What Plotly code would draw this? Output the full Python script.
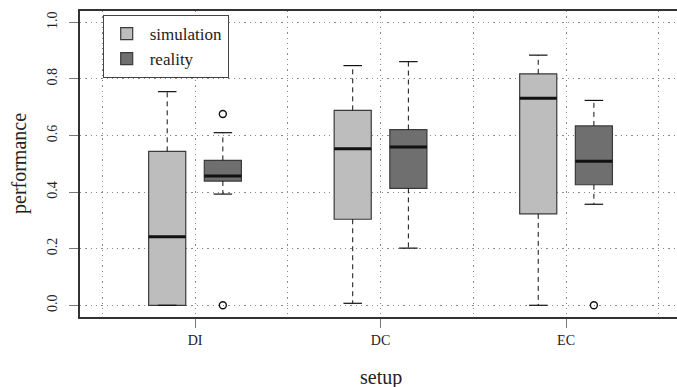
import plotly.graph_objects as go

categories = ["DI", "DC", "EC"]
series_names = ["simulation", "reality"]

sim_min = [0.0, 0.007, 0.0]
sim_q1 = [0.0, 0.304, 0.323]
sim_med = [0.242, 0.553, 0.732]
sim_q3 = [0.544, 0.689, 0.818]
sim_max = [0.755, 0.847, 0.884]
sim_outliers = [[], [], []]

real_min = [0.393, 0.202, 0.357]
real_q1 = [0.439, 0.413, 0.426]
real_med = [0.457, 0.559, 0.509]
real_q3 = [0.512, 0.621, 0.634]
real_max = [0.610, 0.861, 0.724]
real_outliers = [[0.676, 0.0], [], [0.0]]

y_ticks = [0.0, 0.2, 0.4, 0.6, 0.8, 1.0]
y_tick_labels = ["0.0", "0.2", "0.4", "0.6", "0.8", "1.0"]

FONT = "Liberation Serif, Times New Roman, serif"
fills = ["#bdbdbd", "#6f6f6f"]
offsets = [-0.15, 0.15]
BOXW = 0.2
CAPW = 0.1

series = [
    (sim_min, sim_q1, sim_med, sim_q3, sim_max, sim_outliers),
    (real_min, real_q1, real_med, real_q3, real_max, real_outliers),
]

W, H = 677, 387
ML, MR, MT, MB = 80, 0, 11, 70

fig = go.Figure()
pos_base = list(range(1, len(categories) + 1))

for si, (mn, q1, med, q3, mx, outl) in enumerate(series):
    xs = [p + offsets[si] for p in pos_base]
    fig.add_trace(go.Box(
        x=xs, q1=q1, median=med, q3=q3, lowerfence=q1, upperfence=q3,
        width=BOXW, whiskerwidth=0, fillcolor=fills[si],
        line=dict(color="#3a3a3a", width=1.2),
        name=series_names[si], showlegend=True, hoverinfo="skip",
        boxpoints=False,
    ))
    for i, x in enumerate(xs):
        # whiskers (dashed)
        fig.add_trace(go.Scatter(
            x=[x, x, None, x, x], y=[q3[i], mx[i], None, q1[i], mn[i]],
            mode="lines", line=dict(color="#111111", width=1, dash="5px,4px"),
            showlegend=False, hoverinfo="skip"))
        # caps
        fig.add_trace(go.Scatter(
            x=[x - CAPW / 2, x + CAPW / 2, None, x - CAPW / 2, x + CAPW / 2],
            y=[mx[i], mx[i], None, mn[i], mn[i]],
            mode="lines", line=dict(color="#111111", width=1.2),
            showlegend=False, hoverinfo="skip"))
        # median (thick)
        fig.add_trace(go.Scatter(
            x=[x - BOXW / 2, x + BOXW / 2], y=[med[i], med[i]],
            mode="lines", line=dict(color="#111111", width=3),
            showlegend=False, hoverinfo="skip"))
        if outl[i]:
            fig.add_trace(go.Scatter(
                x=[x] * len(outl[i]), y=outl[i], mode="markers",
                marker=dict(symbol="circle-open", size=7, color="#111111",
                            line=dict(width=1.4, color="#111111")),
                showlegend=False, hoverinfo="skip"))

grid = dict(showgrid=True, gridcolor="#8a8a8a", gridwidth=1, griddash="1.3px,4px")

plot_h = H - MT - MB
fig.update_layout(
    width=W, height=H,
    margin=dict(l=ML, r=MR, t=MT, b=MB, autoexpand=False),
    paper_bgcolor="white", plot_bgcolor="white",
    font=dict(family=FONT, color="#222222", size=14),
    showlegend=True,
    legend=dict(x=(102.7 - ML) / (W - ML - MR), y=(H - MB - 15) / plot_h,
                xanchor="left", yanchor="top",
                bordercolor="#444444", borderwidth=1, bgcolor="white",
                font=dict(family=FONT, size=17, color="#222222"),
                itemclick=False, itemwidth=36),
    xaxis=dict(
        range=[0.38, 3.598], tickmode="array", tickvals=pos_base, ticktext=categories,
        ticks="outside", ticklen=9, tickcolor="#777777", tickwidth=1,
        showline=True, mirror=True, linecolor="#333333", linewidth=2,
        zeroline=False, tickfont=dict(size=14, family=FONT), automargin=False,
        minor=dict(tickvals=[0.5, 1.5, 2.5, 3.5], showgrid=True, gridcolor="#8a8a8a",
                   griddash="1.3px,4px", ticks=""),
        **grid,
    ),
    yaxis=dict(
        range=[-0.0414, 1.040], tickmode="array", tickvals=y_ticks, ticktext=y_tick_labels,
        ticks="outside", ticklen=9, tickcolor="#777777", tickwidth=1, tickangle=-90,
        ticklabelstandoff=6,
        showline=True, mirror=False, linecolor="#333333", linewidth=2,
        zeroline=False, tickfont=dict(size=14, family=FONT), automargin=False,
        **grid,
    ),
    annotations=[
        dict(text="performance", xref="paper", yref="paper",
             x=(19 - ML) / (W - ML - MR), y=(H - MB - 164) / plot_h,
             xanchor="center", yanchor="middle", textangle=-90, showarrow=False,
             font=dict(family=FONT, size=20, color="#222222")),
        dict(text="setup", xref="paper", yref="paper",
             x=(380.5 - ML) / (W - ML - MR), y=(H - MB - 377) / plot_h,
             xanchor="center", yanchor="middle", showarrow=False,
             font=dict(family=FONT, size=20, color="#222222")),
    ],
)

fig.write_html("out.html", config={"displayModeBar": False, "staticPlot": True},
               post_script="document.body.style.margin='0';document.body.style.overflow='hidden';")
